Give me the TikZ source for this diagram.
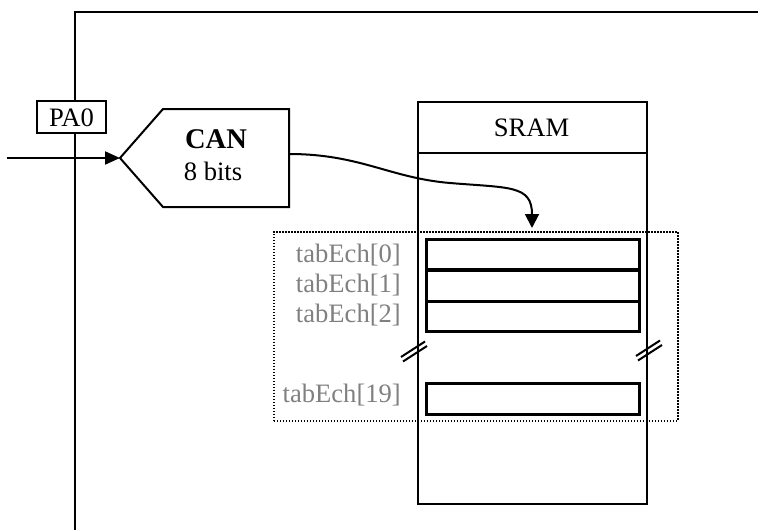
\documentclass[tikz,border=0pt]{standalone}
\usepackage{fontspec}
\setmainfont{Liberation Serif}
\usetikzlibrary{arrows.meta}
\definecolor{labelgray}{RGB}{128,128,128}
\tikzset{
  wire/.style={line width=2pt, line join=miter},
  cellbox/.style={draw, line width=2.6pt},
  idxlabel/.style={anchor=base east, inner sep=0pt, text=labelgray, font=\fontsize{26.6}{30}\selectfont},
  plain/.style={inner sep=0pt, font=\fontsize{26.6}{30}\selectfont},
  breakmark/.style={line width=2pt},
  tipA/.style={-{Triangle[length=15pt,width=13pt]}},
  tipB/.style={-{Triangle[length=14pt,width=14pt]}}
}
\begin{document}
\begin{tikzpicture}[x=1pt,y=-1pt]
\useasboundingbox (0,0) rectangle (758,530);

% outer board frame
\coordinate (frameTL) at (75,12);
\coordinate (frameTR) at (758,12);
\coordinate (frameBL) at (75,530);
\draw[wire] (frameTR) -- (frameTL) -- (frameBL);

% PA0 pin label
\node[draw, fill=white, line width=1.8pt, minimum width=69pt, minimum height=32pt, inner sep=0pt] (pa0box) at (71.5,117) {};
\node[plain, anchor=base] (pa0) at (71.5,126) {PA0};

% converter (pentagon)
\coordinate (cantip) at (120,158);
\coordinate (canUL) at (163,109);
\coordinate (canUR) at (289,109);
\coordinate (canLR) at (289,207);
\coordinate (canLL) at (163,207);
\draw[wire] (cantip) -- (canUL) -- (canUR) -- (canLR) -- (canLL) -- cycle;
\node[anchor=base, inner sep=0pt, font=\fontsize{28.5}{30}\selectfont\bfseries] (can) at (216,148) {CAN};
\node[plain, anchor=base] (canbits) at (213,180) {8 bits};

% analog input
\coordinate (inp) at (7,158);
\draw[wire, tipA] (inp) -- (cantip);

% SRAM block
\node[draw, line width=2pt, minimum width=229pt, minimum height=402pt, inner sep=0pt, anchor=north west] (sram) at (417,101) {};
\coordinate (divL) at (417,153);
\coordinate (divR) at (646,153);
\draw[wire] (divL) -- (divR);
\node[plain, anchor=base] (sramtitle) at (531.5,136) {SRAM};

% array region
\node[draw, line width=1.7pt, dash pattern=on 1.5pt off 1.5pt, minimum width=404pt, minimum height=189pt, inner sep=0pt, anchor=north west] (tab) at (273,231) {};

% array cells
\node[cellbox, minimum width=213pt, minimum height=30pt, inner sep=0pt, anchor=north west] (c0) at (425,238) {};
\node[cellbox, minimum width=213pt, minimum height=31pt, inner sep=0pt, anchor=north west] (c1) at (425,269) {};
\node[cellbox, minimum width=213pt, minimum height=30pt, inner sep=0pt, anchor=north west] (c2) at (425,300) {};
\node[cellbox, minimum width=213pt, minimum height=31pt, inner sep=0pt, anchor=north west] (c19) at (425,382) {};

\node[idxlabel] (l0) at (401,262) {tabEch[0]};
\node[idxlabel] (l1) at (401,292) {tabEch[1]};
\node[idxlabel] (l2) at (401,322) {tabEch[2]};
\node[idxlabel] (l19) at (401,402) {tabEch[19]};

% break marks on the SRAM sides
\coordinate (brkL) at (414,351);
\coordinate (brkR) at (649,350);
\foreach \c in {brkL,brkR}{
  \draw[breakmark] ([shift={(-13,6.0)}]\c) -- ([shift={(11,-9.5)}]\c);
  \draw[breakmark] ([shift={(-11,10.5)}]\c) -- ([shift={(13,-5.0)}]\c);
}

% data path into the array
\coordinate (canout) at (289,154);
\coordinate (tabin) at (532,228);
\draw[wire, tipB] (canout) .. controls (360,154) and (390,178) .. (450,183)
                          .. controls (510,188) and (532,185) .. (tabin);
\end{tikzpicture}
\end{document}
